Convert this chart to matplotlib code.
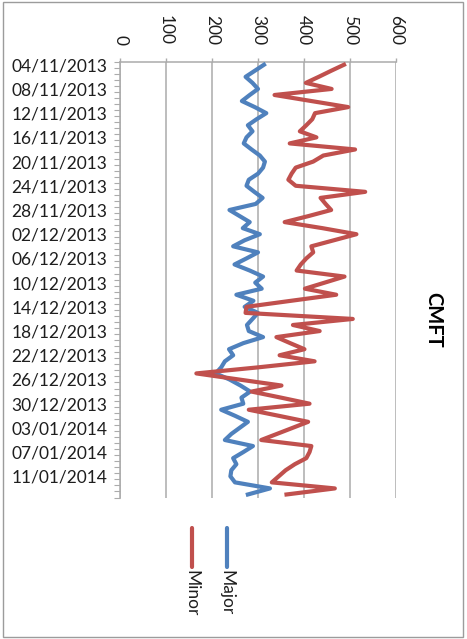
import matplotlib
matplotlib.use('Agg')
import matplotlib.pyplot as plt
from matplotlib.lines import Line2D
from matplotlib.patches import Rectangle
import numpy as np
import pandas as pd

plt.rcParams['font.family'] = ['Lato', 'DejaVu Sans']

title = 'CMFT'
series_names = ['Major', 'Minor']
colors = ['#4F81BD', '#C0504D']
start_date = '2013-11-04'

major = [313, 293, 273, 288, 300, 282, 265, 293, 318, 297,
         278, 288, 275, 269, 286, 304, 315, 311, 300, 280,
         275, 292, 310, 295, 238, 260, 282, 267, 304, 271,
         246, 300, 275, 249, 282, 311, 294, 308, 253, 290,
         271, 300, 288, 276, 280, 311, 268, 237, 246, 228,
         220, 208, 238, 262, 283, 264, 268, 220, 250, 278,
         260, 242, 228, 289, 268, 246, 253, 242, 240, 250,
         326, 278]
minor = [487, 459, 432, 404, 460, 336, 416, 496, 424, 418,
         405, 391, 427, 369, 511, 442, 420, 382, 373, 366,
         382, 533, 436, 447, 459, 410, 358, 440, 514, 465,
         416, 420, 405, 393, 384, 488, 445, 402, 470, 372,
         275, 273, 506, 376, 434, 340, 370, 401, 347, 423,
         300, 166, 258, 351, 286, 350, 412, 280, 345, 409,
         375, 341, 307, 416, 412, 405, 380, 360, 345, 330,
         467, 362]
value_ticks = [0, 100, 200, 300, 400, 500, 600]

dates = pd.date_range(start_date, periods=len(major), freq='D')
half = pd.Timedelta(hours=12)

W, H = 467, 639
fig = plt.figure(figsize=(W/100, H/100), dpi=100)
ax = fig.add_axes([120/W, 1-497.5/H, 276/W, (497.5-61.7)/H])

grid_col = '#ABABAB'
txt_col = '#1E1E1E'

for vals, col in zip([major, minor], colors):
    ax.plot(vals, dates, color=col, lw=3.0, solid_joinstyle='round', zorder=3)

ax.set_xlim(0, 600)
ax.set_ylim(dates[-1] + half, dates[0] - half)

# value axis on top, labels rotated like the picture
ax.xaxis.tick_top()
ax.set_xticks(value_ticks)
ax.set_xticklabels([str(v) for v in value_ticks], rotation=-90, fontsize=12.5, color=txt_col)
ax.tick_params(axis='x', length=3.2, width=1, color=grid_col, pad=9)
ax.grid(axis='x', color=grid_col, lw=1.1, zorder=0)

# date axis on the left
ax.set_yticks(dates[::4])
ax.set_yticklabels([d.strftime('%d/%m/%Y') for d in dates[::4]], fontsize=12.5, color=txt_col)
ax.set_yticks(list(dates - half) + [dates[-1] + half], minor=True)
ax.tick_params(axis='y', which='major', length=0, pad=9)
ax.tick_params(axis='y', which='minor', length=4, width=0.8, color=grid_col)

for s in ['right', 'bottom']:
    ax.spines[s].set_visible(False)
for s in ['left', 'top']:
    ax.spines[s].set_color(grid_col)
    ax.spines[s].set_linewidth(1.1)

fig.text(433/W, 1-320/H, title, rotation=-90, fontsize=14.5, fontweight='bold',
         color='black', ha='center', va='center')

# legend drawn rotated
for name, col, x in zip(series_names, colors, [226.7, 191.7]):
    fig.add_artist(Line2D([x/W, x/W], [1-528/H, 1-567/H], color=col, lw=3.0,
                          solid_capstyle='round', transform=fig.transFigure))
    fig.text(x/W, 1-570/H, name, rotation=-90, fontsize=12.5, color=txt_col,
             ha='center', va='top')

fig.add_artist(Rectangle((2.7/W, 2.3/H), (463.3-2.7)/W, (636.7-2.3)/H, fill=False,
                         ec='#9C9C9C', lw=1, transform=fig.transFigure))

fig.savefig('out.png', dpi=100)
